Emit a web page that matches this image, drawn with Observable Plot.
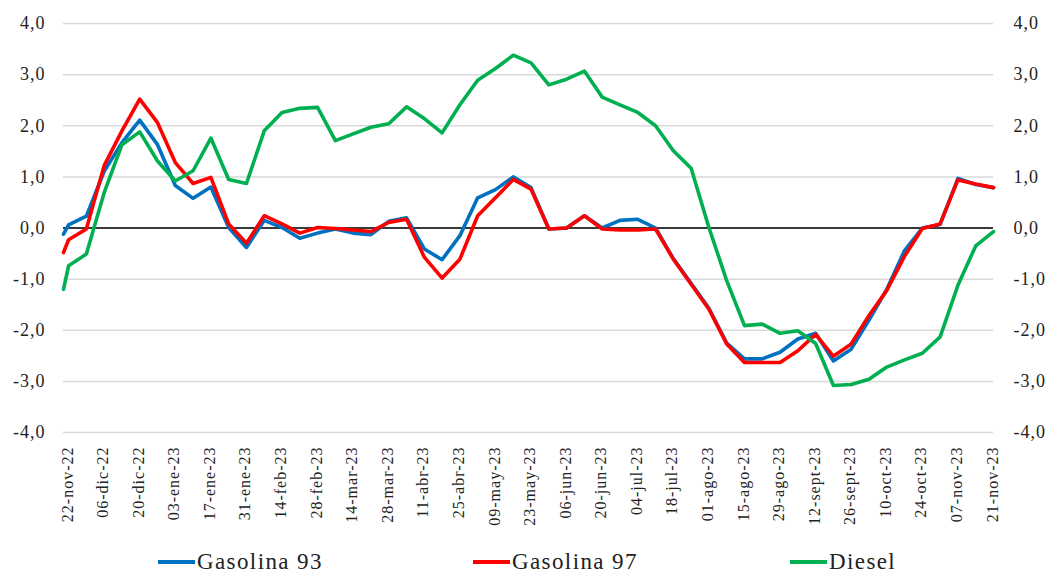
<!DOCTYPE html>
<html>
<head>
<meta charset="utf-8">
<script src="https://cdn.jsdelivr.net/npm/d3@7"></script>
<script src="https://cdn.jsdelivr.net/npm/@observablehq/plot@0.6"></script>
<style>
  body { margin: 0; background: #fff; }
  #chart { position: relative; width: 1051px; height: 576px; overflow: hidden; }
  #chart svg text { letter-spacing: 1px; }
  .leg { position: absolute; top: 547px; height: 30px; display: flex; align-items: center;
         font-family: "Liberation Serif", serif; font-size: 23px; letter-spacing: 1.4px; color: #222; white-space: nowrap; }
  .sw { width: 37px; height: 4px; margin-right: 2px; }
</style>
</head>
<body>
<div id="chart"></div>
<script>
// ---- Data ----
const dates = [
  "2022-11-22", "2022-11-24", "2022-12-01", "2022-12-08", "2022-12-15", "2022-12-22", "2022-12-29",
  "2023-01-05", "2023-01-12", "2023-01-19", "2023-01-26", "2023-02-02", "2023-02-09", "2023-02-16",
  "2023-02-23", "2023-03-02", "2023-03-09", "2023-03-16", "2023-03-23", "2023-03-30", "2023-04-06",
  "2023-04-13", "2023-04-20", "2023-04-27", "2023-05-04", "2023-05-11", "2023-05-18", "2023-05-25",
  "2023-06-01", "2023-06-08", "2023-06-15", "2023-06-22", "2023-06-29", "2023-07-06", "2023-07-13",
  "2023-07-20", "2023-07-27", "2023-08-03", "2023-08-10", "2023-08-17", "2023-08-24", "2023-08-31",
  "2023-09-07", "2023-09-14", "2023-09-21", "2023-09-28", "2023-10-05", "2023-10-12", "2023-10-19",
  "2023-10-26", "2023-11-02", "2023-11-09", "2023-11-16", "2023-11-23"
];

const gasolina93 = [
  -0.12, 0.06, 0.23, 1.11, 1.67, 2.11, 1.63, 0.83, 0.58, 0.80, 0.01, -0.38, 0.15, 0.01,
  -0.20, -0.10, -0.02, -0.10, -0.13, 0.13, 0.20, -0.41, -0.62, -0.15, 0.59, 0.75, 1.00, 0.79,
  -0.02, 0.00, 0.24, 0.00, 0.15, 0.17, 0.00, -0.60, -1.08, -1.57, -2.25, -2.56, -2.56, -2.43,
  -2.17, -2.06, -2.60, -2.37, -1.80, -1.20, -0.44, 0.00, 0.07, 0.97, 0.85, 0.79
];

const gasolina97 = [
  -0.48, -0.23, -0.02, 1.22, 1.90, 2.52, 2.06, 1.28, 0.87, 0.99, 0.08, -0.30, 0.24, 0.08,
  -0.10, 0.01, -0.01, -0.04, -0.07, 0.11, 0.17, -0.57, -0.98, -0.61, 0.24, 0.59, 0.95, 0.76,
  -0.02, 0.00, 0.24, -0.02, -0.04, -0.04, -0.02, -0.61, -1.10, -1.59, -2.27, -2.63, -2.63, -2.63,
  -2.40, -2.08, -2.51, -2.27, -1.71, -1.22, -0.55, -0.01, 0.08, 0.94, 0.86, 0.79
];

const diesel = [
  -1.20, -0.74, -0.51, 0.69, 1.63, 1.88, 1.31, 0.92, 1.12, 1.76, 0.95, 0.87, 1.90, 2.26,
  2.34, 2.36, 1.71, 1.84, 1.97, 2.04, 2.37, 2.14, 1.86, 2.41, 2.89, 3.12, 3.38, 3.23,
  2.80, 2.91, 3.07, 2.56, 2.41, 2.26, 2.00, 1.51, 1.17, 0.01, -1.03, -1.91, -1.88, -2.06,
  -2.01, -2.26, -3.08, -3.06, -2.96, -2.72, -2.58, -2.45, -2.13, -1.12, -0.35, -0.07
];

const seriesNames = ["Gasolina 93", "Gasolina 97", "Diesel"];
const seriesColors = ["#0070C0", "#FF0000", "#00B050"];

const tickDates = [
  "2022-11-22", "2022-12-06", "2022-12-20", "2023-01-03", "2023-01-17", "2023-01-31", "2023-02-14",
  "2023-02-28", "2023-03-14", "2023-03-28", "2023-04-11", "2023-04-25", "2023-05-09", "2023-05-23",
  "2023-06-06", "2023-06-20", "2023-07-04", "2023-07-18", "2023-08-01", "2023-08-15", "2023-08-29",
  "2023-09-12", "2023-09-26", "2023-10-10", "2023-10-24", "2023-11-07", "2023-11-21"
];
const tickLabels = [
  "22-nov-22", "06-dic-22", "20-dic-22", "03-ene-23", "17-ene-23", "31-ene-23", "14-feb-23",
  "28-feb-23", "14-mar-23", "28-mar-23", "11-abr-23", "25-abr-23", "09-may-23", "23-may-23",
  "06-jun-23", "20-jun-23", "04-jul-23", "18-jul-23", "01-ago-23", "15-ago-23", "29-ago-23",
  "12-sept-23", "26-sept-23", "10-oct-23", "24-oct-23", "07-nov-23", "21-nov-23"
];
const yTicks = [-4, -3, -2, -1, 0, 1, 2, 3, 4];

// ---- Build table ----
const seriesValues = [gasolina93, gasolina97, diesel];
const rows = [];
seriesNames.forEach((name, s) => {
  dates.forEach((d, i) => rows.push({ series: name, date: new Date(d), value: seriesValues[s][i] }));
});
const tickDateObjs = tickDates.map(d => new Date(d));
const labelMap = new Map(tickDateObjs.map((d, i) => [+d, tickLabels[i]]));
const fmt = d => d.toFixed(1).replace(".", ",");

const chart = Plot.plot({
  width: 1051,
  height: 540,
  marginLeft: 63,
  marginRight: 58,
  marginTop: 23,
  marginBottom: 108,
  style: { fontFamily: "'Liberation Serif', serif", color: "#222", background: "white" },
  x: { type: "utc", domain: [new Date(dates[0]), new Date(dates[dates.length - 1])], label: null },
  y: { domain: [-4, 4], label: null },
  color: { domain: seriesNames, range: seriesColors },
  marks: [
    Plot.gridY(yTicks, { stroke: "#d9d9d9", strokeOpacity: 1, strokeWidth: 1.5 }),
    Plot.ruleY([0], { stroke: "#000", strokeWidth: 1.3 }),
    Plot.line(rows, { x: "date", y: "value", z: "series", stroke: "series", strokeWidth: 3.6 }),
    Plot.axisY(yTicks, { anchor: "left", label: null, tickSize: 0, tickPadding: 18, fontSize: 18, tickFormat: fmt }),
    Plot.axisY(yTicks, { anchor: "right", label: null, tickSize: 0, tickPadding: 20, fontSize: 18, tickFormat: fmt }),
    Plot.axisX(tickDateObjs, { anchor: "bottom", label: null, tickSize: 0, tickRotate: -90, tickPadding: 14, fontSize: 16,
      tickFormat: d => labelMap.get(+d), dx: 4 })
  ]
});

const root = document.getElementById("chart");
root.appendChild(chart);

// Legend (HTML, below the SVG)
const legLefts = [158, 473, 790];
seriesNames.forEach((name, i) => {
  const item = document.createElement("div");
  item.className = "leg";
  item.style.left = legLefts[i] + "px";
  const sw = document.createElement("span");
  sw.className = "sw";
  sw.style.background = seriesColors[i];
  const tx = document.createElement("span");
  tx.textContent = name;
  item.appendChild(sw);
  item.appendChild(tx);
  root.appendChild(item);
});
</script>
</body>
</html>
